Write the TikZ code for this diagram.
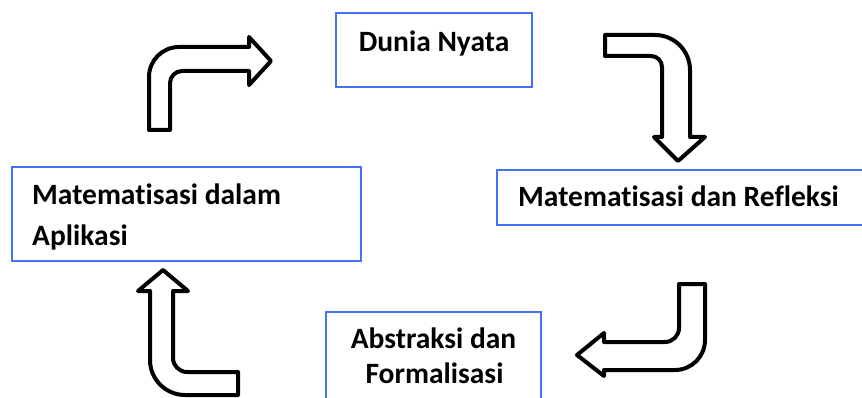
\documentclass[tikz,border=0pt]{standalone}
\usepackage{fontspec}
\setmainfont[Ligatures=NoCommon]{Carlito}
\definecolor{boxblue}{RGB}{68,114,246}
\begin{document}
\begin{tikzpicture}[x=1pt,y=-1pt,
  box/.style={draw=boxblue, line width=1.8pt, inner sep=0pt},
  lbl/.style={font=\fontsize{29.5}{34}\selectfont\bfseries, inner sep=0pt},
  barrow/.style={draw=black, line width=4pt, fill=white, line join=round}]
\useasboundingbox (0,0) rectangle (862,398);
% boxes
\node[box, minimum width=196pt, minimum height=74pt] (dunia) at (434,50) {};
\node[box, minimum width=349pt, minimum height=94pt] (aplikasi) at (186.5,214) {};
\node[box, minimum width=373pt, minimum height=55pt] (refleksi) at (683.5,197.5) {};
\node[box, minimum width=215pt, minimum height=100pt] (abstraksi) at (433.5,362) {};
% labels
\node[lbl, anchor=base] (t1) at (434,52) {Dunia Nyata};
\node[lbl, anchor=base west] (t2a) at (32,205) {Matematisasi dalam};
\node[lbl, anchor=base west] (t2b) at (32,245) {Aplikasi};
\node[lbl, anchor=base west] (t3) at (518,207) {Matematisasi dan Refleksi};
\node[lbl, anchor=base] (t4a) at (433.5,348) {Abstraksi dan};
\node[lbl, anchor=base] (t4b) at (434.5,383) {Formalisasi};
% bent arrows
\draw[barrow] (149,130) -- (149,77) .. controls (149,60.4) and (162.4,47) .. (179,47) -- (249,47) -- (249,37) -- (271,61) -- (249,85) -- (249,71) -- (182,71) .. controls (175.4,71) and (170,76.6) .. (170,83) -- (170,130) -- cycle;
\draw[barrow] (605,35) -- (655,35) .. controls (674.3,35) and (690,50.7) .. (690,70) -- (690,137) -- (705,137) -- (678,161) -- (654,137) -- (662,137) -- (662,67) .. controls (662,60.9) and (657.1,56) .. (651,56) -- (605,56) -- cycle;
\draw[barrow] (679,284) -- (705,284) -- (705,340) .. controls (705,356.6) and (691.6,370) .. (675,370) -- (604,370) -- (604,376) -- (577,355) -- (604,333) -- (604,342) -- (665,342) .. controls (672.7,342) and (679,335.7) .. (679,328) -- cycle;
\draw[barrow] (163,270) -- (188,291) -- (173,291) -- (173,358) .. controls (173,365.7) and (179.3,372) .. (187,372) -- (238,372) -- (238,395) -- (185,395) .. controls (165.7,395) and (150,379.3) .. (150,360) -- (150,291) -- (138,291) -- cycle;
\end{tikzpicture}
\end{document}
